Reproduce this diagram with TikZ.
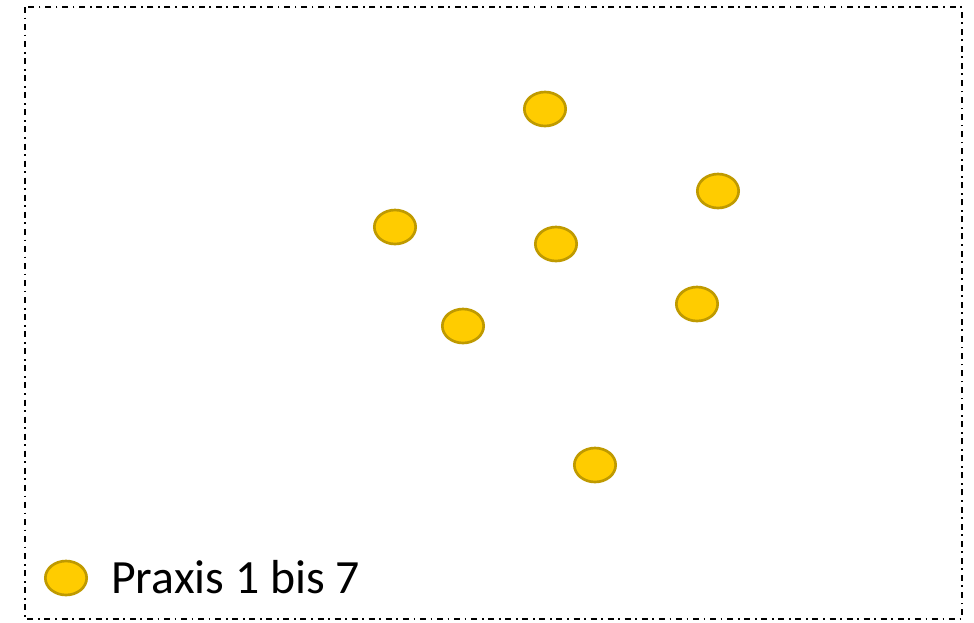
\documentclass[tikz,border=0pt]{standalone}
\usepackage{fontspec}
\usetikzlibrary{shapes.geometric}
\setmainfont{Carlito}
\definecolor{dotfill}{HTML}{FFCC00}
\definecolor{dotline}{HTML}{BF9A00}
\begin{document}
\begin{tikzpicture}[x=0.75pt,y=-0.75pt,
  praxis/.style={ellipse,draw=dotline,fill=dotfill,line width=2pt,minimum width=31pt,minimum height=25.5pt,inner sep=0pt},
  frame/.style={line width=1.4pt,dash pattern=on 4.5pt off 3.5pt on 1.3pt off 3.5pt}]
\useasboundingbox (0,0) rectangle (974,622);
% outer dash-dotted frame
\draw[frame] (25,7) rectangle (962,619);
% the seven practices
\node[praxis] (p1) at (545,109) {};
\node[praxis] (p2) at (718,191) {};
\node[praxis] (p3) at (395,227) {};
\node[praxis] (p4) at (556,244) {};
\node[praxis] (p5) at (697,304) {};
\node[praxis] (p6) at (463,326) {};
\node[praxis] (p7) at (595,465) {};
% legend
\node[praxis] (leg) at (66,578) {};
\node[anchor=base west,inner sep=0pt,font=\fontsize{35.8}{40}\selectfont] (legtext) at (111,593) {Praxis 1 bis 7};
\end{tikzpicture}
\end{document}
